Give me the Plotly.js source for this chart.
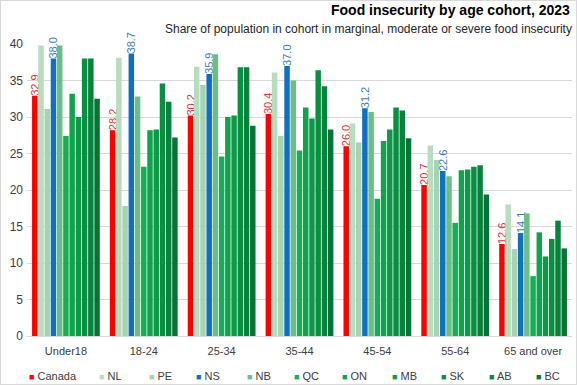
<!DOCTYPE html>
<html><head><meta charset="utf-8">
<script src="https://cdn.plot.ly/plotly-3.0.1.min.js"></script>
<style>
html,body{margin:0;padding:0;background:#fff;}
#chart{width:577px;height:385px;box-sizing:border-box;border:1px solid #d9d9d9;}
</style></head><body>
<div id="chart"></div>
<script>
const categories = ["Under18","18-24","25-34","35-44","45-54","55-64","65 and over"];
const seriesNames = ["Canada","NL","PE","NS","NB","QC","ON","MB","SK","AB","BC"];
const Canada = [32.9,28.2,30.2,30.4,26.0,20.7,12.6];
const NL     = [39.8,38.1,36.9,36.1,29.1,26.1,18.0];
const PE     = [31.1,17.8,34.4,27.4,26.5,24.1,11.9];
const NS     = [38.0,38.7,35.9,37.0,31.2,22.6,14.1];
const NB     = [39.8,32.8,38.6,35.0,30.7,21.9,16.8];
const QC     = [27.4,23.2,24.6,25.4,18.8,15.5,8.2];
const ON     = [33.2,28.2,30.0,31.3,26.7,22.7,14.2];
const MB     = [30.0,28.3,30.2,29.8,28.3,22.8,10.9];
const SK     = [38.0,34.6,36.8,36.4,31.3,23.2,13.3];
const AB     = [38.0,32.1,36.8,34.2,30.9,23.4,15.8];
const BC     = [32.5,27.2,28.8,28.3,27.1,19.4,12.0];
const values = [Canada,NL,PE,NS,NB,QC,ON,MB,SK,AB,BC];
const colors = ["#FF0000","#B7DDC1","#A5D4AF","#0E70BE","#6BBF84","#13AE56","#10A34E","#0C9A48","#0A8F42","#08833C","#067434"];
const labelColors = {Canada:"#D9383A", NS:"#3A7EC2"};
const FONT = "Liberation Sans, Arial, sans-serif";

const traces = seriesNames.map((n,i)=>{
  const t = {type:"bar", name:n, x:categories, y:values[i], showlegend:false,
    marker:{color:colors[i]}, hoverinfo:"x+y+name"};
  if (labelColors[n]) {
    t.text = values[i].map(v=>v.toFixed(1));
    t.textposition = "outside";
    t.textangle = -90;
    t.constraintext = "none";
    t.cliponaxis = false;
    t.textfont = {color:labelColors[n], size:11, family:FONT};
  } else {
    t.textposition = "none";
  }
  return t;
});

// geometry of plot area (for placing the legend row)
const W = 575, H = 383, M = {l:26, r:4, t:43, b:48};
const pw = W - M.l - M.r, ph = H - M.t - M.b;
const legendPx = [26, 96, 146, 193, 244, 291, 339, 389, 438, 486, 533];
const legendY = -(375 - (H - M.b)) / ph;

const annotations = [
  {text:"<b>Food insecurity by age cohort, 2023</b>", xref:"paper", yref:"paper",
   x:1, xanchor:"right", y:1.115, yanchor:"middle", showarrow:false,
   font:{size:14, color:"#000", family:FONT}},
  {text:"Share of population in cohort in marginal, moderate or severe food insecurity", xref:"paper", yref:"paper",
   x:1.003, xanchor:"right", y:1.052, yanchor:"middle", showarrow:false,
   font:{size:12, color:"#262626", family:FONT}}
];
seriesNames.forEach((n,i)=>{
  annotations.push({
    text:'<span style="color:'+colors[i]+';font-size:9px">■</span> '+n,
    xref:"paper", yref:"paper", x:(legendPx[i]-M.l)/pw, xanchor:"left",
    y:legendY, yanchor:"middle", showarrow:false,
    font:{size:11, color:"#404040", family:FONT}
  });
});

const layout = {
  width:W, height:H,
  margin:M,
  paper_bgcolor:"#fff", plot_bgcolor:"#fff",
  barmode:"group", bargap:0.12, bargroupgap:0.12,
  font:{family:FONT, size:11, color:"#404040"},
  xaxis:{type:"category", showgrid:false, showline:false, ticks:"", ticklabelstandoff:7,
         tickfont:{size:11,color:"#404040"}},
  yaxis:{range:[0,40], dtick:5, showgrid:true, gridcolor:"#d9d9d9", gridwidth:1,
         zeroline:true, zerolinecolor:"#d9d9d9", showline:false, ticks:"", ticklabelstandoff:3,
         tickfont:{size:12,color:"#404040"}},
  showlegend:false,
  annotations:annotations
};
Plotly.newPlot("chart", traces, layout, {displayModeBar:false, staticPlot:true});
</script></body></html>
